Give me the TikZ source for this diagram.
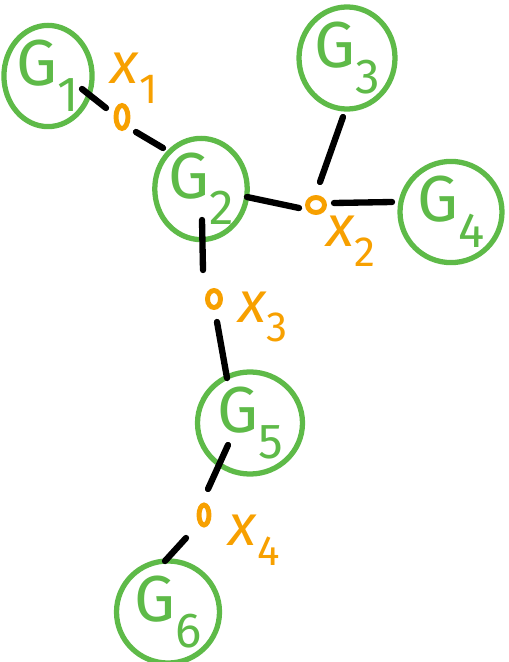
\documentclass[tikz,border=0pt]{standalone}
\usepackage{fontspec}
\newfontfamily\handfont{Fira Sans}
\usetikzlibrary{shapes.geometric}
\definecolor{leafgreen}{RGB}{94,186,72}
\definecolor{tagorange}{RGB}{247,160,0}
\tikzset{
  group/.style={ellipse, draw=leafgreen, line width=3pt, inner sep=0pt,
    text=leafgreen, font=\handfont\fontsize{37}{37}\selectfont},
  var/.style={ellipse, draw=tagorange, line width=2.8pt, inner sep=0pt},
  tag/.style={text=tagorange, inner sep=0pt,
    font=\handfont\fontsize{33}{33}\selectfont},
  link/.style={line width=3.6pt, line cap=round, draw=black},
}
\newcommand{\gname}[1]{G\raisebox{-0.4em}{\fontsize{28}{28}\selectfont #1}}
\newcommand{\vname}[1]{\textit{x}\raisebox{-0.34em}{\fontsize{24}{24}\selectfont #1}}
\begin{document}
\begin{tikzpicture}[x=0.02cm, y=-0.02cm]
  \useasboundingbox (0,0) rectangle (508,662);

  % groups
  \node[group, minimum width=1.64cm, minimum height=1.86cm] (G1) at (48,76)   {\gname{1}};
  \node[group, minimum width=1.76cm, minimum height=1.86cm] (G2) at (201,189) {\gname{2}};
  \node[group, minimum width=1.92cm, minimum height=1.96cm] (G3) at (347,58)  {\gname{3}};
  \node[group, minimum width=2.04cm, minimum height=2.00cm] (G4) at (451,212) {\gname{4}};
  \node[group, minimum width=2.10cm, minimum height=1.76cm] (G5) at (250,423) {\gname{5}};
  \node[group, minimum width=2.06cm, minimum height=1.90cm] (G6) at (168,612) {\gname{6}};

  % shared variables
  \node[var, minimum width=0.24cm, minimum height=0.46cm] (x1) at (122,117) {};
  \node[var, minimum width=0.34cm, minimum height=0.30cm] (x2) at (316,205) {};
  \node[var, minimum width=0.26cm, minimum height=0.34cm] (x3) at (214,299) {};
  \node[var, minimum width=0.20cm, minimum height=0.40cm] (x4) at (204,515) {};

  % variable names
  \node[tag] (l1) at (134,78)  {\vname{1}};
  \node[tag] (l2) at (351,241) {\vname{2}};
  \node[tag] (l3) at (263,317) {\vname{3}};
  \node[tag] (l4) at (254,540) {\vname{4}};

  % links between groups and variables
  \draw[link] ([xshift=0.68cm,yshift=-0.26cm]G1.center) -- ([xshift=-0.32cm,yshift=0.18cm]x1.center);
  \draw[link] ([xshift=0.28cm,yshift=-0.30cm]x1.center) -- ([xshift=-0.76cm,yshift=0.82cm]G2.center);
  \draw[link] ([xshift=0.92cm,yshift=-0.16cm]G2.center) -- ([xshift=-0.34cm,yshift=-0.06cm]x2.center);
  \draw[link] ([xshift=0.08cm,yshift=0.46cm]x2.center) -- ([xshift=-0.08cm,yshift=-1.18cm]G3.center);
  \draw[link] ([xshift=0.36cm,yshift=0.04cm]x2.center) -- ([xshift=-1.18cm,yshift=0.20cm]G4.center);
  \draw[link] ([xshift=0.02cm,yshift=-0.62cm]G2.center) -- ([xshift=-0.22cm,yshift=0.58cm]x3.center);
  \draw[link] ([xshift=0.06cm,yshift=-0.46cm]x3.center) -- ([xshift=-0.46cm,yshift=0.90cm]G5.center);
  \draw[link] ([xshift=-0.44cm,yshift=-0.44cm]G5.center) -- ([xshift=0.08cm,yshift=0.52cm]x4.center);
  \draw[link] ([xshift=-0.36cm,yshift=-0.46cm]x4.center) -- ([xshift=-0.06cm,yshift=1.02cm]G6.center);
\end{tikzpicture}
\end{document}
